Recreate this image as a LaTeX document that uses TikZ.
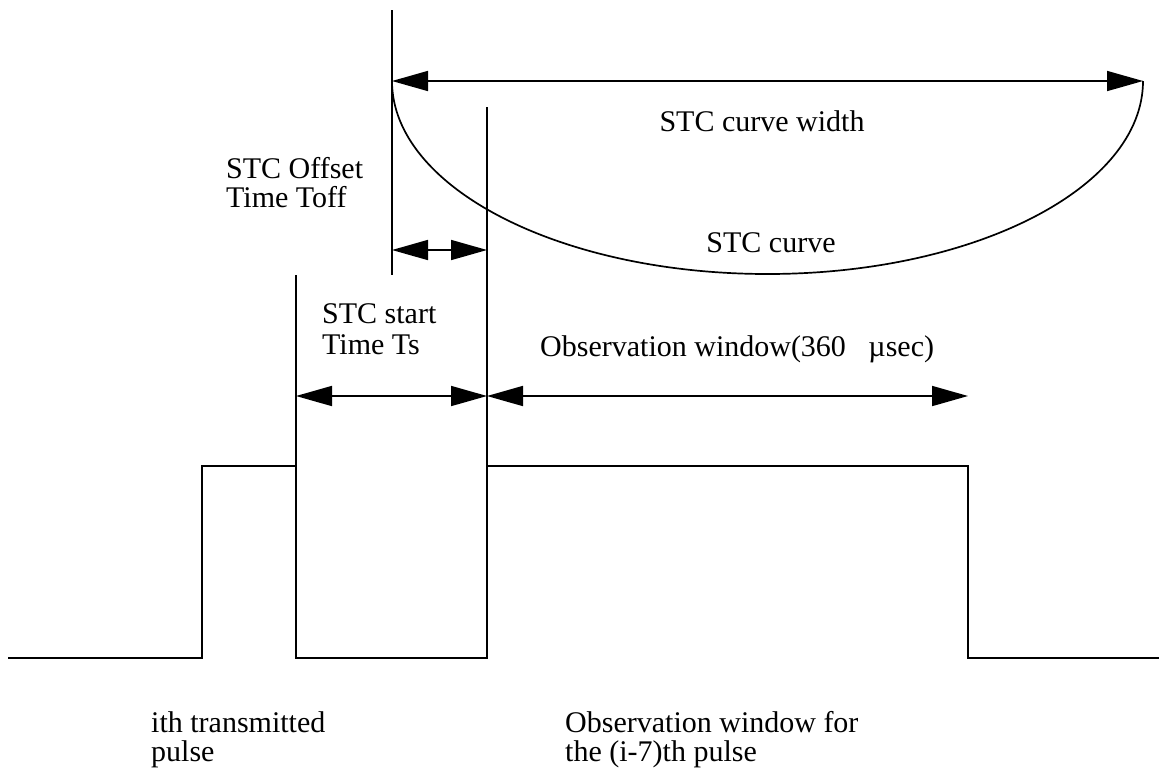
\documentclass[tikz,border=0pt]{standalone}
\usepackage{fontspec}
\setmainfont{Liberation Serif}
\usetikzlibrary{arrows.meta}
\begin{document}
\begin{tikzpicture}[x=1pt,y=-1pt,
  ln/.style={line width=1.7pt},
  dim/.style={line width=1.7pt,{Triangle[length=36pt,width=20pt]}-{Triangle[length=36pt,width=20pt]}},
  lbl/.style={inner sep=0pt,font=\fontsize{30}{28}\selectfont,anchor=base west},
  clbl/.style={inner sep=0pt,font=\fontsize{30}{28}\selectfont,anchor=base}]
\useasboundingbox (0,0) rectangle (1159,769);
% waveform coordinates
\coordinate (w0) at (8,658);
\coordinate (w1) at (202,658);
\coordinate (w2) at (202,466);
\coordinate (w3) at (296,466);
\coordinate (w4) at (296,658);
\coordinate (w5) at (487,658);
\coordinate (w6) at (487,466);
\coordinate (w7) at (968,466);
\coordinate (w8) at (968,658);
\coordinate (w9) at (1159,658);
\draw[ln] (w0) -- (w1) -- (w2) -- (w3) -- (w4) -- (w5) -- (w6) -- (w7) -- (w8) -- (w9);
% vertical markers
\coordinate (a1) at (392,10);
\coordinate (a2) at (392,275);
\coordinate (b1) at (296,275);
\coordinate (c1) at (487,107);
\draw[ln] (a1) -- (a2);
\draw[ln] (b1) -- (w3);
\draw[ln] (c1) -- (w6);
% dimension arrows
\coordinate (t1) at (392,81);
\coordinate (t2) at (1143,81);
\draw[dim] (t1) -- (t2);
\coordinate (o1) at (392,250);
\coordinate (o2) at (487,250);
\draw[dim] (o1) -- (o2);
\coordinate (s1) at (296,396);
\coordinate (s2) at (487,396);
\coordinate (s3) at (968,396);
\draw[dim] (s1) -- (s2);
\draw[dim] (s2) -- (s3);
% STC curve
\draw[ln] (t1) arc[start angle=180,end angle=360,x radius=375.5pt,y radius=193pt];
% labels
\node[clbl] (l1) at (762,131) {STC curve width};
\node[lbl] (l2) at (226,178) {\begin{tabular}[t]{@{}l@{}}STC Offset\\Time Toff\end{tabular}};
\node[clbl] (l3) at (771,252) {STC curve};
\node[lbl] (l4) at (322,323) {\begin{tabular}[t]{@{}l@{}}STC start\\[3pt]Time Ts\end{tabular}};
\node[lbl] (l5) at (540,356) {Observation window(360\ \ \ µsec)};
\node[lbl] (l6) at (151,732) {\begin{tabular}[t]{@{}l@{}}ith transmitted\\pulse\end{tabular}};
\node[lbl] (l7) at (565,732) {\begin{tabular}[t]{@{}l@{}}Observation window for\\the (i-7)th pulse\end{tabular}};
\end{tikzpicture}
\end{document}
